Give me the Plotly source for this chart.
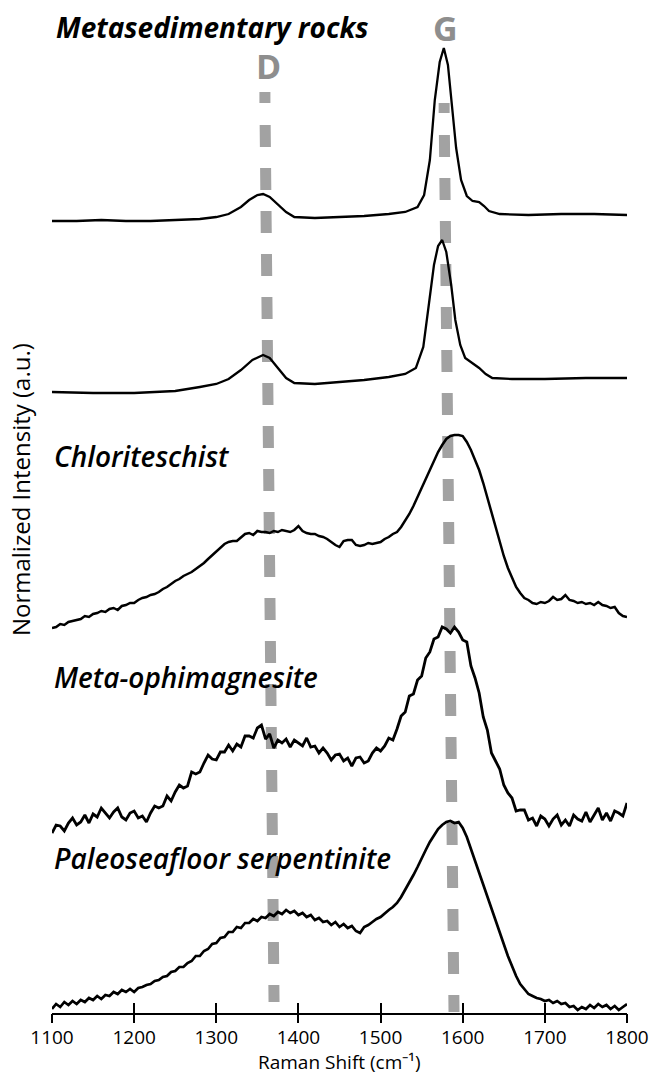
import plotly.graph_objects as go

# ---------------- data (stacked normalized intensities, a.u.) ----------------
x_meta1 = [1100, 1130, 1160, 1190, 1220, 1250, 1280, 1300, 1315, 1330, 1340, 1350, 1357, 1365,
           1375, 1385, 1395, 1420, 1450, 1480, 1510, 1530, 1545, 1553, 1560, 1566, 1572, 1577,
           1582, 1587, 1592, 1598, 1605, 1612, 1620, 1626, 1632, 1645, 1680, 1720, 1760, 1800]
y_meta1 = [792, 792, 793, 792, 792, 793, 794, 796, 799, 806, 813, 818, 819, 816,
           808, 801, 796, 795, 796, 797, 799, 801, 806, 818, 853, 913, 951, 965,
           948, 908, 865, 833, 817, 812, 811, 807, 802, 799, 798, 799, 799, 798]

x_meta2 = [1100, 1150, 1200, 1250, 1280, 1300, 1315, 1330, 1344, 1357, 1365, 1375, 1385, 1395,
           1420, 1450, 1480, 1510, 1530, 1543, 1552, 1559, 1565, 1570, 1575, 1580, 1586, 1591,
           1597, 1603, 1612, 1620, 1628, 1636, 1660, 1700, 1750, 1800]
y_meta2 = [621, 620, 620, 622, 626, 629, 634, 643, 653, 658, 655, 645, 635, 630,
           629, 631, 633, 636, 639, 645, 666, 710, 748, 767, 773, 761, 728, 693,
           668, 655, 650, 645, 639, 635, 634, 634, 635, 635]

x_step5 = list(range(1100, 1801, 5))

y_chlorite = [385, 386, 389, 388, 391, 392, 393, 394, 397, 396, 399, 400, 402, 401, 404, 405,
              403, 407, 408, 410, 410, 413, 415, 416, 418, 419, 421, 424, 426, 429, 432, 434,
              437, 439, 441, 444, 447, 450, 454, 458, 462, 466, 469, 471, 472, 472, 476, 479,
              480, 478, 482, 481, 481, 480, 482, 481, 483, 482, 481, 483, 487, 482, 480, 479,
              479, 477, 476, 474, 471, 468, 466, 472, 473, 473, 468, 467, 468, 470, 469, 470,
              471, 474, 476, 479, 481, 486, 492, 499, 507, 516, 526, 535, 543, 553, 561, 568,
              574, 577, 578, 578, 577, 571, 563, 553, 543, 530, 515, 501, 487, 472, 457, 445,
              435, 426, 420, 415, 413, 410, 409, 411, 410, 412, 416, 413, 414, 418, 413, 412,
              410, 411, 409, 410, 408, 411, 408, 407, 405, 406, 400, 397, 396]

y_ophimag = [180, 188, 187, 182, 190, 195, 188, 191, 198, 190, 199, 196, 205, 200, 195, 201,
             205, 196, 193, 200, 202, 195, 197, 191, 200, 207, 205, 207, 217, 212, 221, 228,
             225, 227, 241, 239, 241, 250, 258, 254, 253, 261, 261, 268, 262, 269, 266, 277,
             277, 275, 285, 288, 274, 279, 265, 273, 270, 274, 266, 273, 270, 267, 275, 266,
             267, 260, 265, 260, 253, 258, 259, 252, 255, 247, 255, 256, 250, 252, 260, 265,
             262, 267, 275, 273, 284, 297, 301, 317, 319, 333, 337, 355, 361, 374, 376, 386,
             384, 380, 386, 381, 373, 371, 347, 335, 320, 296, 283, 260, 252, 244, 228, 220,
             215, 202, 203, 203, 193, 195, 187, 197, 194, 187, 194, 198, 188, 193, 187, 198,
             194, 192, 201, 191, 198, 205, 193, 200, 192, 202, 200, 197, 210]

y_paleo = [4, 9, 6, 11, 8, 12, 9, 13, 11, 15, 13, 17, 14, 18, 17, 21,
           19, 23, 21, 24, 21, 25, 26, 28, 29, 32, 33, 36, 37, 41, 42, 46,
           46, 50, 52, 57, 57, 62, 64, 69, 70, 75, 76, 81, 81, 86, 85, 90,
           90, 94, 92, 96, 95, 99, 97, 101, 99, 103, 100, 102, 98, 100, 96, 98,
           93, 95, 91, 92, 88, 91, 86, 89, 85, 87, 82, 80, 86, 88, 91, 94,
           96, 100, 103, 106, 110, 116, 123, 130, 138, 146, 155, 163, 171, 178, 184, 188,
           191, 192, 190, 191, 185, 176, 164, 153, 141, 130, 118, 106, 93, 80, 68, 57,
           47, 37, 29, 24, 19, 17, 15, 14, 12, 13, 10, 12, 9, 10, 6, 7,
           3, 6, 4, 8, 5, 9, 6, 8, 4, 7, 3, 6, 9]

sample_labels = ["Metasedimentary rocks", "Chloriteschist", "Meta-ophimagnesite",
                 "Paleoseafloor serpentinite"]
label_y = [986, 557, 336, 155]

tick_vals = [1100, 1200, 1300, 1400, 1500, 1600, 1700, 1800]

# band guide lines (wavenumber at top / bottom; intensity top / bottom; top stub)
D_band = dict(x_top=1359.5, x_bot=1370.3, y_top=888, y_bot=11, stub=(921, 910))
G_band = dict(x_top=1577.7, x_bot=1589.4, y_top=878, y_bot=1, stub=(910, 900))

# ---------------- figure ----------------
fig = go.Figure()
fig.add_trace(go.Scatter(x=x_meta1, y=y_meta1, mode="lines", line=dict(color="black", width=2.3)))
fig.add_trace(go.Scatter(x=x_meta2, y=y_meta2, mode="lines", line=dict(color="black", width=2.3)))
fig.add_trace(go.Scatter(x=x_step5, y=y_chlorite, mode="lines", line=dict(color="black", width=2.5)))
fig.add_trace(go.Scatter(x=x_step5, y=y_ophimag, mode="lines", line=dict(color="black", width=2.8)))
fig.add_trace(go.Scatter(x=x_step5, y=y_paleo, mode="lines", line=dict(color="black", width=2.7)))
# invisible trace on overlay axis to carry the outside half of the ticks
fig.add_trace(go.Scatter(x=[1100, 1800], y=[0, 0], mode="lines", line=dict(width=0),
                         xaxis="x2", hoverinfo="skip"))

gray = "#a2a2a2"
shapes = []
for b in (D_band, G_band):
    xt, xb = b["x_top"], b["x_bot"]
    shapes.append(dict(type="line", xref="x", yref="y", x0=xt, y0=b["y_top"], x1=xb, y1=b["y_bot"],
                       line=dict(color=gray, width=11, dash="22px,21px"), layer="below"))
    s0, s1 = b["stub"]
    shapes.append(dict(type="line", xref="x", yref="y", x0=xt - 0.3, y0=s0, x1=xt - 0.3, y1=s1,
                       line=dict(color=gray, width=11), layer="below"))

annotations = []
for i, (lab, ly) in enumerate(zip(sample_labels, label_y)):
    annotations.append(dict(
        x=1103 if i == 0 else 1100, y=ly, xref="x", yref="y", xanchor="left", yanchor="middle",
        text=f"<i>{lab}</i>", showarrow=False,
        font=dict(family="Open Sans", size=28, color="black",
                  weight=700 if i == 0 else 600, style="italic")))
annotations.append(dict(x=1363, y=947, xref="x", yref="y", text="<b>D</b>", showarrow=False,
                        font=dict(family="Open Sans", size=34, color="#8e8e8e")))
annotations.append(dict(x=1579.5, y=985, xref="x", yref="y", text="<b>G</b>", showarrow=False,
                        font=dict(family="Open Sans", size=34, color="#8e8e8e")))
annotations.append(dict(x=-0.056, y=0.517, xref="paper", yref="paper", textangle=-90,
                        text="Normalized Intensity (a.u.)", showarrow=False,
                        xanchor="center", yanchor="middle",
                        font=dict(family="Open Sans", size=24, color="black")))
# x-axis title placed under the tick labels, flush with the bottom of the figure
annotations.append(dict(x=0.5, y=-64 / 1013, xref="paper", yref="paper",
                        xanchor="center", yanchor="bottom",
                        text="Raman Shift (cm\u207b\u00b9)", showarrow=False,
                        font=dict(family="Open Sans", size=19, color="black")))

fig.update_layout(
    width=657, height=1077,
    margin=dict(l=52, r=30, t=0, b=64),
    paper_bgcolor="white", plot_bgcolor="rgba(0,0,0,0)",
    showlegend=False,
    shapes=shapes, annotations=annotations,
    xaxis=dict(range=[1100, 1800], tickvals=tick_vals, ticks="inside", ticklen=10, tickwidth=1.5,
               tickcolor="black", showline=True, linecolor="black", linewidth=2.2,
               showgrid=False, zeroline=False, ticklabelstandoff=6,
               tickfont=dict(family="Open Sans", size=19, color="black")),
    xaxis2=dict(range=[1100, 1800], overlaying="x", anchor="y", side="bottom",
                tickvals=tick_vals, ticks="outside", ticklen=9, tickwidth=1.5, tickcolor="black",
                showticklabels=False, showline=False, showgrid=False, zeroline=False),
    yaxis=dict(range=[0, 1013], visible=False, showgrid=False, zeroline=False),
)

fig.write_html("out.html", config={"displayModeBar": False},
               post_script="document.body.style.margin='0';document.body.style.overflow='hidden';")
